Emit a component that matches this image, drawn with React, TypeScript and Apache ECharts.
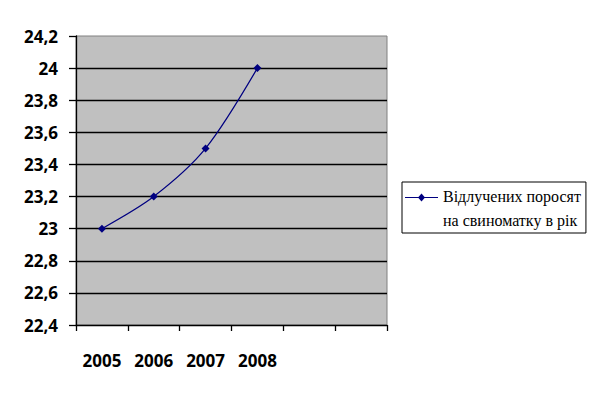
import React, { useEffect, useRef } from "react";
import * as echarts from "echarts";

const categories = ["2005", "2006", "2007", "2008", "", ""];
const seriesName = "Відлучених поросят\nна свиноматку в рік";
const values = [23, 23.2, 23.5, 24];
const yMin = 22.4;
const yMax = 24.2;
const yStep = 0.2;

export default function App() {
  const ref = useRef<HTMLDivElement>(null);
  useEffect(() => {
    if (!ref.current) return;
    const chart = echarts.init(ref.current, null, { renderer: "svg" });
    chart.setOption({
      animation: false,
      backgroundColor: "#fff",
      grid: {
        left: 76,
        top: 36,
        width: 311,
        height: 289,
        show: true,
        backgroundColor: "#c0c0c0",
        borderColor: "#808080",
        borderWidth: 1,
      },
      xAxis: {
        type: "category",
        data: categories,
        boundaryGap: true,
        axisLine: { lineStyle: { color: "#000", width: 1.3 } },
        axisTick: { show: true, length: 6, lineStyle: { color: "#000", width: 1.3 } },
        axisLabel: {
          fontFamily: "Open Sans",
          fontWeight: "bold",
          fontSize: 17,
          color: "#000",
          margin: 27,
          interval: 0,
        },
        splitLine: { show: false },
      },
      yAxis: {
        type: "value",
        min: yMin,
        max: yMax,
        interval: yStep,
        axisLine: { show: true, lineStyle: { color: "#000", width: 1.3 } },
        axisTick: { show: true, length: 7, lineStyle: { color: "#000", width: 1.3 } },
        axisLabel: {
          fontFamily: "Open Sans",
          fontWeight: "bold",
          fontSize: 17,
          color: "#000",
          margin: 18,
          formatter: (v: number) => String(Number(v.toFixed(1))).replace(".", ","),
        },
        splitLine: {
          show: true,
          showMinLine: false,
          showMaxLine: false,
          lineStyle: { color: "#000", width: 1.3 },
        },
      },
      legend: {
        show: true,
        left: 402,
        top: 182,
        orient: "vertical",
        padding: [2, 5, 1, 3],
        borderColor: "#000",
        borderWidth: 1,
        itemWidth: 33,
        itemHeight: 46,
        icon:
          "path://M0,12 L33,12 L33,13 L0,13 Z M16.5,8.5 L20,12.5 L16.5,16.5 L13,12.5 Z M0,0 L0.01,0 L0,0.01 Z M32.99,46 L33,46 L33,45.99 Z",
        itemStyle: { borderWidth: 0 },
        textStyle: {
          fontFamily: "Liberation Serif",
          fontSize: 16,
          lineHeight: 24,
          color: "#000",
        },
        data: [seriesName],
      },
      series: [
        {
          name: seriesName,
          type: "line",
          data: values,
          smooth: 0.3,
          color: "#000080",
          lineStyle: { color: "#000080", width: 1.2 },
          itemStyle: { color: "#000080" },
          symbol: "diamond",
          symbolSize: 8,
        },
      ],
    });
    return () => chart.dispose();
  }, []);
  return (
    <div
      ref={ref}
      style={{ position: "fixed", left: 0, top: 0, width: 600, height: 395 }}
    />
  );
}
